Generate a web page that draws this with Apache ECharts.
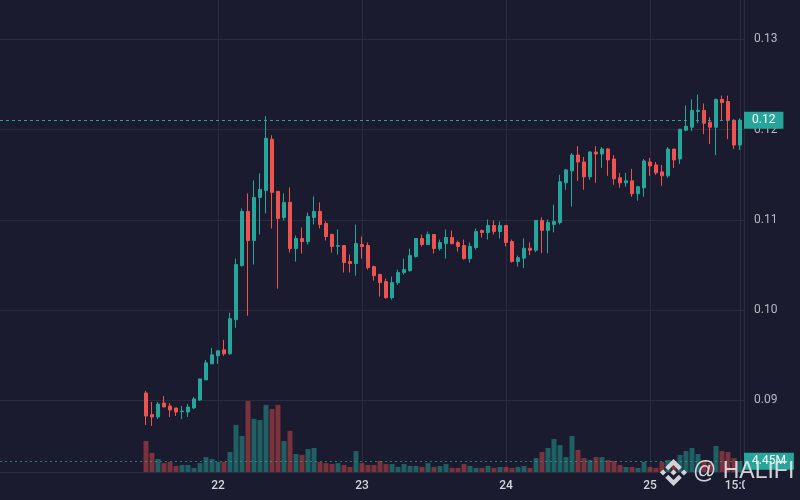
<!DOCTYPE html>
<html>
<head>
<meta charset="utf-8">
<title>candles</title>
<script src="https://cdn.jsdelivr.net/npm/echarts@6/dist/echarts.min.js"></script>
<style>
html, body { margin: 0; padding: 0; background: #1a1b2e; }
#main { width: 800px; height: 500px; }
</style>
</head>
<body>
<div id="main"></div>
<script>
var HOUR = 3600 * 1000;
var firstCandle = Date.UTC(2024, 0, 21, 12);   // hourly candles from 21 12:00

var openArr = [
	0.09081, 0.08841, 0.08815, 0.08970, 0.08937, 0.08915, 0.08874, 0.08870, 0.08915, 0.09004,
	0.09226, 0.09404, 0.09493, 0.09559, 0.09515, 0.09893, 0.10493, 0.11093, 0.10770, 0.11248,
	0.11326, 0.11893, 0.11315, 0.11026, 0.11193, 0.10681, 0.10793, 0.10759, 0.11026, 0.11093,
	0.10959, 0.10837, 0.10707, 0.10715, 0.10537, 0.10515, 0.10726, 0.10715, 0.10481, 0.10393,
	0.10315, 0.10137, 0.10304, 0.10415, 0.10437, 0.10593, 0.10793, 0.10726, 0.10837, 0.10681,
	0.10737, 0.10804, 0.10748, 0.10715, 0.10570, 0.10693, 0.10881, 0.10859, 0.10937, 0.10870,
	0.10937, 0.10759, 0.10537, 0.10575, 0.10685, 0.10663, 0.10993, 0.10883, 0.10949, 0.10971,
	0.11410, 0.11542, 0.11718, 0.11641, 0.11476, 0.11751, 0.11729, 0.11784, 0.11674, 0.11465,
	0.11410, 0.11432, 0.11289, 0.11355, 0.11641, 0.11608, 0.11531, 0.11487, 0.11784, 0.11674,
	0.11993, 0.12026, 0.12201, 0.12212, 0.12081, 0.12026, 0.12333, 0.12311, 0.12103, 0.11828
];
var closeArr = [
	0.08826, 0.08815, 0.08959, 0.08926, 0.08893, 0.08870, 0.08881, 0.08926, 0.09015, 0.09237,
	0.09415, 0.09504, 0.09548, 0.09515, 0.09904, 0.10504, 0.11093, 0.10770, 0.11248, 0.11337,
	0.11904, 0.11304, 0.11015, 0.11193, 0.10681, 0.10793, 0.10759, 0.11037, 0.11093, 0.10948,
	0.10815, 0.10704, 0.10715, 0.10526, 0.10515, 0.10737, 0.10704, 0.10470, 0.10381, 0.10304,
	0.10137, 0.10304, 0.10415, 0.10448, 0.10604, 0.10793, 0.10726, 0.10837, 0.10681, 0.10748,
	0.10804, 0.10737, 0.10704, 0.10570, 0.10704, 0.10870, 0.10859, 0.10937, 0.10870, 0.10937,
	0.10748, 0.10537, 0.10581, 0.10685, 0.10663, 0.10993, 0.10883, 0.10971, 0.10982, 0.11421,
	0.11553, 0.11718, 0.11641, 0.11476, 0.11751, 0.11729, 0.11784, 0.11663, 0.11454, 0.11410,
	0.11432, 0.11289, 0.11366, 0.11652, 0.11597, 0.11520, 0.11487, 0.11784, 0.11663, 0.12004,
	0.12037, 0.12212, 0.12212, 0.12070, 0.12026, 0.12333, 0.12300, 0.12103, 0.11828, 0.12103
];
var lowArr = [
	0.08726, 0.08715, 0.08793, 0.08926, 0.08815, 0.08826, 0.08793, 0.08815, 0.08904, 0.08993,
	0.09226, 0.09404, 0.09404, 0.09493, 0.09504, 0.09804, 0.10481, 0.09937, 0.10504, 0.10837,
	0.11070, 0.10904, 0.10237, 0.10993, 0.10637, 0.10537, 0.10626, 0.10726, 0.10948, 0.10904,
	0.10770, 0.10637, 0.10615, 0.10415, 0.10415, 0.10381, 0.10570, 0.10448, 0.10326, 0.10148,
	0.10126, 0.10115, 0.10281, 0.10393, 0.10426, 0.10581, 0.10704, 0.10726, 0.10626, 0.10659,
	0.10570, 0.10726, 0.10648, 0.10559, 0.10526, 0.10670, 0.10804, 0.10781, 0.10837, 0.10793,
	0.10704, 0.10526, 0.10481, 0.10465, 0.10608, 0.10641, 0.10630, 0.10630, 0.10861, 0.10949,
	0.11333, 0.11147, 0.11432, 0.11333, 0.11443, 0.11410, 0.11575, 0.11487, 0.11388, 0.11355,
	0.11366, 0.11256, 0.11212, 0.11256, 0.11487, 0.11498, 0.11377, 0.11465, 0.11575, 0.11619,
	0.11982, 0.11982, 0.12070, 0.11949, 0.11839, 0.11718, 0.12103, 0.11894, 0.11784, 0.11773
];
var highArr = [
	0.09104, 0.08981, 0.08981, 0.09048, 0.08970, 0.08915, 0.08937, 0.08959, 0.09037, 0.09237,
	0.09448, 0.09581, 0.09548, 0.09670, 0.09970, 0.10570, 0.11126, 0.11293, 0.11437, 0.11515,
	0.12148, 0.11937, 0.11315, 0.11293, 0.11359, 0.10826, 0.10915, 0.11081, 0.11259, 0.11193,
	0.10981, 0.10848, 0.10893, 0.10715, 0.10615, 0.10948, 0.10815, 0.10748, 0.10493, 0.10404,
	0.10348, 0.10370, 0.10448, 0.10570, 0.10681, 0.10793, 0.10837, 0.10870, 0.10837, 0.10781,
	0.10893, 0.10881, 0.10770, 0.10781, 0.10748, 0.10904, 0.10893, 0.11004, 0.10993, 0.10981,
	0.10937, 0.10781, 0.10604, 0.10795, 0.10751, 0.10993, 0.11026, 0.11004, 0.11168, 0.11498,
	0.11564, 0.11740, 0.11817, 0.11696, 0.11762, 0.11817, 0.11806, 0.11795, 0.11718, 0.11520,
	0.11520, 0.11564, 0.11377, 0.11674, 0.11685, 0.11641, 0.11608, 0.11806, 0.11784, 0.12004,
	0.12267, 0.12333, 0.12388, 0.12289, 0.12136, 0.12344, 0.12377, 0.12377, 0.12114, 0.12125
];
// volume, millions
var volumeArr = [
	12.9, 7.9, 5.4, 3.7, 4.2, 2.5, 2.9, 2.9, 1.7, 3.7,
	6.2, 5.4, 4.2, 4.2, 8.3, 19.6, 15.0, 29.5, 22.1, 21.6,
	27.9, 26.2, 27.9, 12.9, 17.1, 7.5, 7.1, 9.6, 10.0, 4.2,
	3.7, 3.3, 3.7, 2.9, 2.1, 8.7, 3.7, 2.9, 2.9, 4.6,
	3.3, 3.3, 2.1, 3.3, 2.5, 2.5, 2.1, 3.7, 2.1, 2.5,
	3.3, 1.7, 1.7, 3.3, 2.5, 1.7, 1.7, 2.5, 1.7, 2.1,
	2.1, 1.7, 2.1, 2.5, 1.7, 5.8, 8.3, 10.0, 13.7, 11.2,
	6.2, 15.0, 9.2, 5.8, 5.0, 6.2, 6.2, 5.0, 4.6, 2.9,
	2.1, 2.1, 1.7, 4.2, 2.1, 1.7, 4.2, 5.0, 3.5, 7.1,
	8.7, 10.0, 7.5, 5.0, 3.7, 10.8, 8.7, 8.3, 5.8, 4.45
];
var priceTicks = [0.09, 0.10, 0.11, 0.12, 0.13];
var timeTicks = [
	Date.UTC(2024, 0, 22), Date.UTC(2024, 0, 23), Date.UTC(2024, 0, 24),
	Date.UTC(2024, 0, 25), Date.UTC(2024, 0, 25, 15)
];

var upColor = '#26a69a';
var downColor = '#ef5350';
var bgColor = '#1a1b2e';
var gridColor = '#2a2b3d';
var markColor = 'rgba(228,228,234,0.9)';

function pad(n) {
	return n < 10 ? '0' + n : '' + n;
}

var candleData = [];
var volData = [];
for (var i = 0; i < openArr.length; i++) {
	var t = firstCandle + i * HOUR;
	candleData.push([t, openArr[i], closeArr[i], lowArr[i], highArr[i]]);
	var up = closeArr[i] >= openArr[i];
	volData.push({
		value: [t, volumeArr[i]],
		itemStyle: {color: up ? 'rgba(38,166,154,0.5)' : 'rgba(239,83,80,0.45)'}
	});
}
var lastTime = firstCandle + (openArr.length - 1) * HOUR;
var lastClose = closeArr[closeArr.length - 1];
var lastVol = volumeArr[volumeArr.length - 1];

var xMin = firstCandle - (24 + 1 / 3) * HOUR;
var xMax = xMin + 124 * HOUR;

//右侧价格/成交量标签
function lastValueLine(value, text, lineColor, dash) {
	return {
		silent: true,
		precision: 6,
		symbol: ['none', 'none'],
		lineStyle: {color: lineColor, type: dash, width: 1},
		emphasis: {disabled: true},
		label: {
			position: 'end',
			distance: 0,
			formatter: text,
			backgroundColor: upColor,
			color: '#ffffff',
			fontSize: 12,
			fontFamily: 'Roboto',
			padding: [2, 8],
			lineHeight: 13
		},
		data: [{yAxis: value}]
	};
}

var myChart = echarts.init(document.getElementById('main'));
var option = {
	backgroundColor: bgColor,
	animation: false,
	grid: {left: 0, right: 56, top: 0, bottom: 28},
	xAxis: {
		type: 'value',
		min: xMin,
		max: xMax,
		axisLine: {show: true, lineStyle: {color: gridColor}},
		axisTick: {show: false, customValues: timeTicks},
		splitLine: {show: true, lineStyle: {color: gridColor, width: 1}},
		axisLabel: {
			customValues: timeTicks,
			color: '#d1d4dc',
			fontSize: 12,
			fontFamily: 'Roboto',
			fontWeight: 500,
			margin: 8,
			formatter: function(v) {
				var d = new Date(v);
				if (d.getUTCHours() === 0) {
					return String(d.getUTCDate());
				}
				return pad(d.getUTCHours()) + ':' + pad(d.getUTCMinutes());
			}
		}
	},
	yAxis: [
		{
			type: 'value',
			position: 'right',
			min: 0.082055,
			max: 0.134355,
			axisLine: {show: true, lineStyle: {color: gridColor}},
			axisTick: {show: false, customValues: priceTicks},
			splitLine: {show: true, lineStyle: {color: gridColor, width: 1}},
			axisLabel: {
				customValues: priceTicks,
				color: '#b8bac4',
				fontSize: 12,
				fontFamily: 'Roboto',
				margin: 10,
				formatter: function(v) { return v.toFixed(2); }
			}
		},
		{
			type: 'value',
			min: 0,
			max: 196.3,
			show: false,
			splitLine: {show: false}
		}
	],
	series: [
		{
			name: 'volume',
			type: 'bar',
			yAxisIndex: 1,
			barWidth: 5,
			data: volData,
			markLine: lastValueLine(lastVol, lastVol.toFixed(2) + 'M', 'rgba(38,166,154,0.7)', [2, 3])
		},
		{
			name: 'price',
			type: 'candlestick',
			yAxisIndex: 0,
			barWidth: 4,
			encode: {x: 0, y: [1, 2, 3, 4]},
			data: candleData,
			itemStyle: {
				color: upColor,
				color0: downColor,
				borderColor: upColor,
				borderColor0: downColor,
				borderWidth: 1
			}
		},
		{
			name: 'last',
			type: 'line',
			yAxisIndex: 0,
			showSymbol: false,
			symbol: 'none',
			lineStyle: {opacity: 0},
			data: [[lastTime, lastClose]],
			markLine: lastValueLine(lastClose, lastClose.toFixed(2), upColor, [3, 3])
		}
	],
	graphic: [
		{
			type: 'rect',
			z: 50,
			shape: {x: 745, y: 473, width: 55, height: 27},
			style: {fill: bgColor}
		},
		{
			// logo, drawn in a 24x24 box
			type: 'group',
			z: 100,
			x: 660,
			y: 459,
			scaleX: 1.125,
			scaleY: 1.125,
			children: [
				{type: 'polygon', z: 100, shape: {points: [[12, 0], [19.35, 7.35], [16.63, 10.07], [12, 5.44], [7.37, 10.07], [4.65, 7.35]]}, style: {fill: markColor}},
				{type: 'polygon', z: 100, shape: {points: [[12, 24], [19.35, 16.65], [16.63, 13.93], [12, 18.56], [7.37, 13.93], [4.65, 16.65]]}, style: {fill: markColor}},
				{type: 'polygon', z: 100, shape: {points: [[0, 12], [2.72, 9.28], [5.44, 12], [2.72, 14.72]]}, style: {fill: markColor}},
				{type: 'polygon', z: 100, shape: {points: [[24, 12], [21.28, 9.28], [18.56, 12], [21.28, 14.72]]}, style: {fill: markColor}},
				{type: 'polygon', z: 100, shape: {points: [[12, 9.28], [14.72, 12], [12, 14.72], [9.28, 12]]}, style: {fill: markColor}}
			]
		},
		{
			type: 'text',
			z: 100,
			x: 693,
			y: 483,
			style: {
				text: '@ HALIFI',
				fill: markColor,
				font: '23px "Liberation Sans"',
				verticalAlign: 'bottom'
			}
		}
	]
};
myChart.setOption(option);
</script>
</body>
</html>
